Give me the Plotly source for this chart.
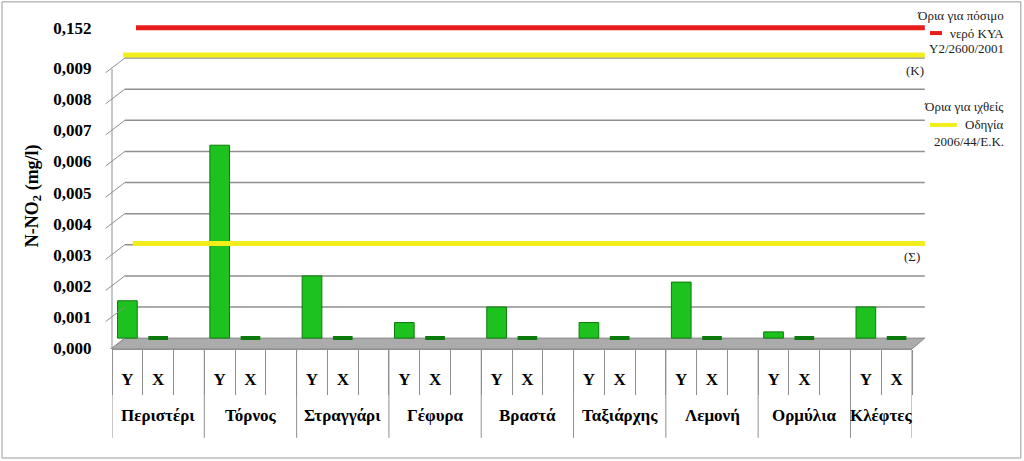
import plotly.graph_objects as go

# ── data ──────────────────────────────────────────────────────────────────────
STATIONS = ["Περιστέρι", "Τόρνος", "Στραγγάρι", "Γέφυρα", "Βραστά",
            "Ταξιάρχης", "Λεμονή", "Ορμύλια", "Κλέφτες"]
SEASONS  = ["Υ", "Χ"]
Y_VALUES = [0.0012, 0.0062, 0.0020, 0.0005, 0.0010, 0.0005, 0.0018, 0.0002, 0.0010]
X_VALUES = [0.0, 0.0, 0.0, 0.0, 0.0, 0.0, 0.0, 0.0, 0.0]

LIMIT_DRINK = 0.152    # ΚΥΑ Υ2/2600/2001
LIMIT_K     = 0.0091   # 2006/44/Ε.Κ. (Κ)
LIMIT_S     = 0.00304  # 2006/44/Ε.Κ. (Σ)

Y_TICKS = [0.000, 0.001, 0.002, 0.003, 0.004, 0.005, 0.006, 0.007, 0.008, 0.009]

SERIF = "Liberation Serif"
GREEN, GREEN_DARK = "#1ec21e", "#0d7a0d"
RED, YELLOW, GRID = "#e81c1c", "#f2ee1c", "#8f8f8f"

DEPTH_X = 0.016    # 3-D depth offset of the back wall (paper units)
DEPTH_Y = 0.00035  # same offset in data units

# slot layout: Υ, Χ and an empty slot after every station except the last
pos_y = [3 * i for i in range(len(STATIONS))]
pos_x = [3 * i + 1 for i in range(len(STATIONS))]
n_slots = 3 * len(STATIONS) - 1
group_edges = [3 * i - 0.5 for i in range(len(STATIONS))] + [n_slots - 0.5]
group_mid = [(group_edges[i] + group_edges[i + 1]) / 2 for i in range(len(STATIONS))]

fig = go.Figure()
fig.add_trace(go.Bar(
    x=pos_y, y=Y_VALUES, width=0.64, name="Υ",
    marker=dict(color=GREEN, line=dict(color=GREEN_DARK, width=1)),
    showlegend=False, hoverinfo="y",
))
fig.add_trace(go.Bar(
    x=pos_x, y=X_VALUES, width=0.64, name="Χ",
    marker=dict(color=GREEN_DARK, line=dict(color=GREEN_DARK, width=4)),
    showlegend=False, hoverinfo="y",
))
# invisible trace so the upper (broken) axis for the drinking-water limit exists
fig.add_trace(go.Scatter(
    x=[pos_y[0], pos_x[-1]], y=[LIMIT_DRINK, LIMIT_DRINK], yaxis="y2", mode="lines",
    line=dict(color="rgba(0,0,0,0)"), showlegend=False, hoverinfo="skip",
))

shapes = [
    # floor (parallelogram, front edge to back wall)
    dict(type="path", xref="paper", yref="y", layer="below",
         path=f"M 0,{-DEPTH_Y} L 1,{-DEPTH_Y} L {1 + DEPTH_X},0 L {DEPTH_X},0 Z",
         fillcolor="#ababab", line=dict(color="#8a8a8a", width=1)),
    # front y-axis line
    dict(type="line", xref="paper", yref="y", x0=0, x1=0,
         y0=-DEPTH_Y, y1=Y_TICKS[-1] - DEPTH_Y, line=dict(color=GRID, width=1)),
]
# back-wall gridlines with diagonal connectors to the front axis
for t in Y_TICKS[1:]:
    shapes.append(dict(type="line", xref="paper", yref="y", x0=DEPTH_X, x1=1 + DEPTH_X,
                       y0=t, y1=t, line=dict(color=GRID, width=1.5), layer="below"))
for t in Y_TICKS:
    shapes.append(dict(type="line", xref="paper", yref="y", x0=-0.008, x1=DEPTH_X,
                       y0=t - DEPTH_Y - 0.00012, y1=t, line=dict(color=GRID, width=1)))
# station dividers below the axis
for e in group_edges:
    shapes.append(dict(type="line", xref="x", yref="paper", x0=e, x1=e, y0=0, y1=-0.262,
                       line=dict(color=GRID, width=1)))

shapes += [
    # limit lines
    dict(type="line", xref="paper", yref="y2", x0=0.03, x1=1 + DEPTH_X,
         y0=LIMIT_DRINK, y1=LIMIT_DRINK, line=dict(color=RED, width=5)),
    dict(type="line", xref="paper", yref="y", x0=0.014, x1=1 + DEPTH_X,
         y0=LIMIT_K, y1=LIMIT_K, line=dict(color=YELLOW, width=5)),
    dict(type="line", xref="paper", yref="y", x0=0.026, x1=1 + DEPTH_X,
         y0=LIMIT_S, y1=LIMIT_S, line=dict(color=YELLOW, width=5)),
    # legend swatches
    dict(type="line", xref="paper", yref="paper", x0=1.0225, x1=1.0375, y0=0.932, y1=0.932,
         line=dict(color=RED, width=4)),
    dict(type="line", xref="paper", yref="paper", x0=1.0225, x1=1.056, y0=0.661, y1=0.661,
         line=dict(color=YELLOW, width=4)),
    # outer frame
    dict(type="rect", xref="paper", yref="paper", x0=-0.1375, x1=1.136, y0=-0.3215, y1=1.024,
         line=dict(color="#9a9a9a", width=1)),
]

ann_font = dict(family=SERIF, size=13, color="#222")
def note(text, x, y, anchor="right"):
    return dict(text=text, xref="paper", yref="paper", x=x, y=y, xanchor=anchor,
                yanchor="middle", showarrow=False, font=ann_font)

annotations = [
    note("Όρια για πόσιμο", 1.118, 0.985),
    note("νερό ΚΥΑ", 1.118, 0.932),
    note("Υ2/2600/2001", 1.118, 0.885),
    note("(Κ)", 1.018, 0.823),
    note("Όρια για ιχθείς", 1.118, 0.714),
    note("Οδηγία", 1.118, 0.661),
    note("2006/44/Ε.Κ.", 1.118, 0.611),
    note("(Σ)", 1.012, 0.274),
]
for st, m in zip(STATIONS, group_mid):
    annotations.append(dict(text=st, xref="x", yref="paper", x=m, y=-0.195,
                            xanchor="center", yanchor="middle", showarrow=False,
                            font=dict(family=SERIF, size=17, color="black", weight="bold")))

fig.update_layout(
    width=1024, height=461,
    margin=dict(l=112, r=112, t=10, b=112),
    paper_bgcolor="white", plot_bgcolor="white",
    separators=",.",
    font=dict(family=SERIF, color="black"),
    shapes=shapes, annotations=annotations,
    xaxis=dict(
        range=[-0.5, n_slots - 0.5],
        tickvals=pos_y + pos_x, ticktext=[SEASONS[0]] * len(pos_y) + [SEASONS[1]] * len(pos_x),
        tickfont=dict(family=SERIF, size=17, color="black", weight="bold"),
        ticks="outside", ticklen=15, tickcolor="rgba(0,0,0,0)",
        minor=dict(tickvals=[k + 0.5 for k in range(-1, n_slots)], ticks="outside",
                   ticklen=45, tickcolor=GRID, showgrid=False),
        showline=True, linecolor=GRID, showgrid=False, zeroline=False,
    ),
    yaxis=dict(
        domain=[0, 0.904], range=[-DEPTH_Y, 0.0095],
        tickvals=Y_TICKS, tickformat=".3f", ticklabelshift=10,
        tickfont=dict(family=SERIF, size=17, color="black", weight="bold"),
        showgrid=False, zeroline=False, showline=False,
        ticks="outside", ticklen=16, tickcolor="rgba(0,0,0,0)",
        title=dict(text="N-NO<sub>2</sub> (mg/l)", standoff=10,
                   font=dict(family=SERIF, size=18, color="black", weight="bold")),
    ),
    yaxis2=dict(
        domain=[0.917, 0.979], range=[0.151, 0.153], anchor="x",
        tickvals=[LIMIT_DRINK], tickformat=".3f",
        tickfont=dict(family=SERIF, size=17, color="black", weight="bold"),
        showgrid=False, zeroline=False, showline=False,
        ticks="outside", ticklen=16, tickcolor="rgba(0,0,0,0)",
    ),
)

fig.write_html("out.html", config={"displayModeBar": False},
               post_script="document.body.style.margin='0';")
